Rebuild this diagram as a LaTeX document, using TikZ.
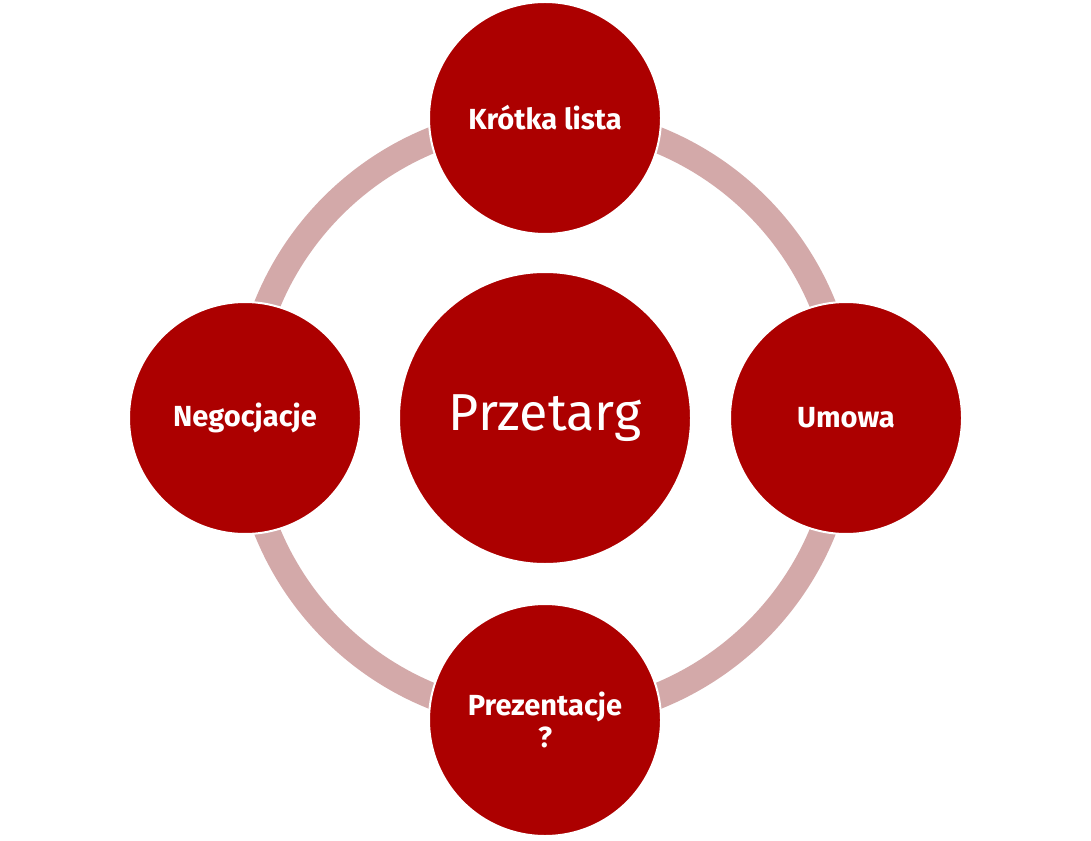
\documentclass[tikz,border=0pt]{standalone}
\usepackage{fontspec}
\setmainfont{Fira Sans}
\usepackage{tikz}
\usetikzlibrary{backgrounds}
\definecolor{cyclered}{HTML}{AC0000}
\definecolor{cyclering}{HTML}{D3A9A9}
\tikzset{
  cstage/.style={circle, fill=cyclered, draw=white, line width=1.5pt,
                 minimum size=174pt, inner sep=0pt, align=center,
                 text=white, font=\fontsize{21.8}{24}\selectfont\bfseries},
  chub/.style={cstage, minimum size=219pt,
               font=\fontsize{39}{44}\selectfont},
  cring/.style={draw=cyclering, line width=19.5pt},
}
\begin{document}
\begin{tikzpicture}[x=0.75pt, y=0.75pt]
  \useasboundingbox (0,0) rectangle (1091,840);
  % --- hub and the four stages ---
  \node[chub]   (hub)  at (545,422) {Przetarg};
  \node[cstage] (top)  at (545,722) {Krótka lista};
  \node[cstage] (rgt)  at (846,422) {Umowa};
  \node[cstage] (bot)  at (545,120) {Prezentacje\\?};
  \node[cstage] (lft)  at (245,422) {Negocjacje};

  % --- ring behind the stages ---
  \begin{scope}[on background layer]
    \draw[cring] (hub.center) circle[radius=300];
  \end{scope}
\end{tikzpicture}
\end{document}
